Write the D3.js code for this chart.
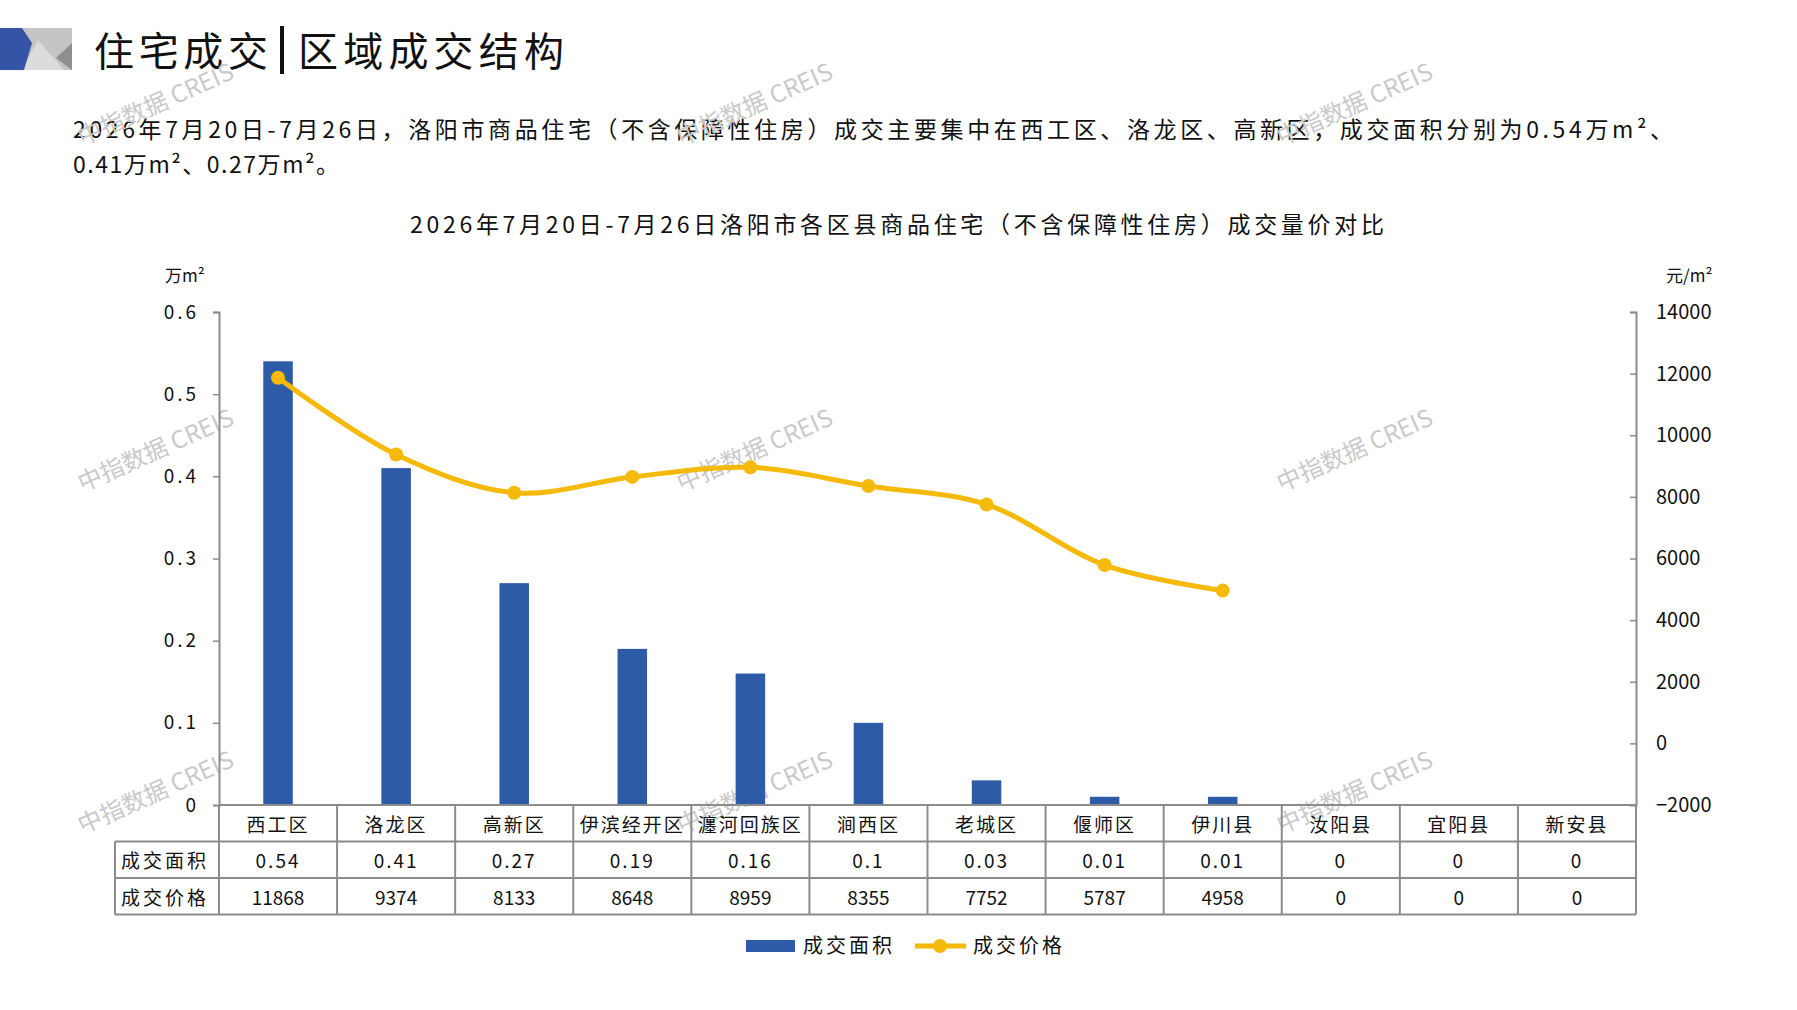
<!DOCTYPE html>
<html>
<head>
<meta charset="utf-8">
<script src="https://cdn.jsdelivr.net/npm/d3@7"></script>
<style>
  body { margin: 0; background: #fff; }
  text { font-family: "Noto Sans CJK SC", "Noto Sans", sans-serif; fill: #111; }
</style>
</head>
<body>
<div class="canvas"></div>
<script>
// chart data
const categories = ['西工区', '洛龙区', '高新区', '伊滨经开区', '瀍河回族区', '涧西区', '老城区', '偃师区', '伊川县', '汝阳县', '宜阳县', '新安县'];
const areaValues = [0.54, 0.41, 0.27, 0.19, 0.16, 0.1, 0.03, 0.01, 0.01, 0, 0, 0];
const priceValues = [11868, 9374, 8133, 8648, 8959, 8355, 7752, 5787, 4958, 0, 0, 0];
const areaTicks = [0, 0.1, 0.2, 0.3, 0.4, 0.5, 0.6];
const priceTicks = [-2000, 0, 2000, 4000, 6000, 8000, 10000, 12000, 14000];
const rowLabels = ['成交面积', '成交价格'];
const seriesNames = ['成交面积', '成交价格'];

const blue = '#2E5BA8';
const gold = '#F5B90A';
const gridGrey = '#8c8c8c';

const plotLeft = 219;
const plotRight = 1636;
const plotTop = 312;
const plotBottom = 805;

const svg = d3.select('.canvas')
    .append('svg')
        .attr('width', 1797)
        .attr('height', 1010);

svg.append('rect').attr('width', 1797).attr('height', 1010).attr('fill', '#fff');

// header logo
const logo = svg.append('g');
logo.append('rect').attr('x', 22).attr('y', 28).attr('width', 50).attr('height', 42).attr('fill', '#c4c4c4');
logo.append('path').attr('d', 'M22,70 L38,40 L64,70 Z').attr('fill', '#dcdcdc');
logo.append('path').attr('d', 'M72,43 L56,58 L72,70 Z').attr('fill', '#8e8e8e');
logo.append('path').attr('d', 'M0,28 L22,28 L32,43 L24,70 L0,70 Z').attr('fill', '#3654a5');

svg.append('text')
    .attr('x', 94).attr('y', 66)
    .attr('font-size', 40)
    .attr('textLength', 174)
    .text('住宅成交');
svg.append('rect').attr('x', 280).attr('y', 26).attr('width', 4).attr('height', 48).attr('fill', '#111');
svg.append('text')
    .attr('x', 298).attr('y', 66)
    .attr('font-size', 40)
    .attr('textLength', 266)
    .text('区域成交结构');

// paragraph
svg.append('text')
    .attr('x', 73).attr('y', 138)
    .attr('font-size', 23)
    .attr('textLength', 1600)
    .attr('lengthAdjust', 'spacing')
    .text('2026年7月20日-7月26日，洛阳市商品住宅（不含保障性住房）成交主要集中在西工区、洛龙区、高新区，成交面积分别为0.54万m²、');
svg.append('text')
    .attr('x', 73).attr('y', 173)
    .attr('font-size', 23)
    .attr('textLength', 266)
    .attr('lengthAdjust', 'spacing')
    .text('0.41万m²、0.27万m²。');

// watermarks
const wmX = [159, 758, 1358];
const wmY = [112, 458, 800];
wmY.forEach(wy => wmX.forEach(wx => {
    svg.append('text')
        .attr('transform', `translate(${wx},${wy}) rotate(-24)`)
        .attr('text-anchor', 'middle')
        .attr('font-size', 24)
        .style('fill', '#c9c9c9')
        .text('中指数据 CREIS');
}));

// chart title
svg.append('text')
    .attr('x', 897).attr('y', 233)
    .attr('text-anchor', 'middle')
    .attr('font-size', 23)
    .attr('textLength', 974)
    .attr('lengthAdjust', 'spacing')
    .text('2026年7月20日-7月26日洛阳市各区县商品住宅（不含保障性住房）成交量价对比');

// scales
const x = d3.scaleBand()
    .domain(categories)
    .range([plotLeft, plotRight]);
const yLeft = d3.scaleLinear()
    .domain([0, 0.6])
    .range([plotBottom, plotTop]);
const yRight = d3.scaleLinear()
    .domain([-2000, 14000])
    .range([plotBottom, plotTop]);

// units
svg.append('text').attr('x', 165).attr('y', 282).attr('font-size', 17).text('万m²');
svg.append('text').attr('x', 1666).attr('y', 282).attr('font-size', 17).text('元/m²');

// axes
const leftAxis = svg.append('g')
    .attr('transform', `translate(${plotLeft},0)`)
    .call(d3.axisLeft(yLeft).tickValues(areaTicks).tickSize(6).tickSizeOuter(6).tickPadding(14)
        .tickFormat(d => d === 0 ? '0' : d3.format('.1f')(d)));
const rightAxis = svg.append('g')
    .attr('transform', `translate(${plotRight},0)`)
    .call(d3.axisRight(yRight).tickValues(priceTicks).tickSize(-6).tickSizeOuter(-6).tickPadding(20)
        .tickFormat(d3.format('d')));
[leftAxis, rightAxis].forEach(g => {
    g.select('.domain').attr('stroke', gridGrey).attr('stroke-width', 2);
    g.selectAll('.tick line').attr('stroke', gridGrey).attr('stroke-width', 1.5);
    g.selectAll('.tick text').attr('font-size', 19).style('fill', '#111')
        .attr('font-family', '"Noto Sans", sans-serif');
});
leftAxis.selectAll('.tick text').attr('letter-spacing', 3);
rightAxis.selectAll('.tick text').attr('font-size', 20);
rightAxis.selectAll('.tick').filter(d => d === -2000).select('line').remove();
leftAxis.selectAll('.tick').filter(d => d === 0).select('line').remove();

// bars
const barW = x.bandwidth() * 0.25;
svg.append('g').selectAll('rect')
    .data(categories.map((c, i) => ({ c, v: areaValues[i] })))
    .enter()
    .append('rect')
    .attr('x', d => x(d.c) + (x.bandwidth() - barW) / 2)
    .attr('y', d => yLeft(d.v))
    .attr('width', barW)
    .attr('height', d => yLeft(0) - yLeft(d.v))
    .attr('fill', blue);

// price line
const pts = categories.map((c, i) => ({ c, v: priceValues[i] })).filter(d => d.v > 0);
const line = d3.line()
    .x(d => x(d.c) + x.bandwidth() / 2)
    .y(d => yRight(d.v))
    .curve(d3.curveCatmullRom.alpha(0.5));
svg.append('path')
    .datum(pts)
    .attr('d', line)
    .attr('fill', 'none')
    .attr('stroke', gold)
    .attr('stroke-width', 5);
svg.append('g').selectAll('circle')
    .data(pts)
    .enter()
    .append('circle')
    .attr('cx', d => x(d.c) + x.bandwidth() / 2)
    .attr('cy', d => yRight(d.v))
    .attr('r', 7)
    .attr('fill', gold);

// data table
const rowH = 36.5;
const tableTop = plotBottom;
const tableLeft = 115;
const table = svg.append('g').attr('stroke', gridGrey).attr('stroke-width', 2);
table.append('line').attr('x1', plotLeft).attr('x2', plotRight).attr('y1', tableTop).attr('y2', tableTop);
[1, 2, 3].forEach(r => {
    table.append('line').attr('x1', tableLeft).attr('x2', plotRight)
        .attr('y1', tableTop + r * rowH).attr('y2', tableTop + r * rowH);
});
table.append('line').attr('x1', tableLeft).attr('x2', tableLeft)
    .attr('y1', tableTop + rowH).attr('y2', tableTop + 3 * rowH);
categories.forEach(c => {
    table.append('line').attr('x1', x(c)).attr('x2', x(c))
        .attr('y1', tableTop).attr('y2', tableTop + 3 * rowH);
});
table.append('line').attr('x1', plotRight).attr('x2', plotRight)
    .attr('y1', tableTop).attr('y2', tableTop + 3 * rowH);

const cellText = (tx, ty, s, anchor) => svg.append('text')
    .attr('x', tx).attr('y', ty)
    .attr('text-anchor', anchor || 'middle')
    .attr('dominant-baseline', 'central')
    .attr('font-size', 19)
    .text(s);

categories.forEach((c, i) => {
    const cx = x(c) + x.bandwidth() / 2;
    cellText(cx, tableTop + rowH * 0.5, c).attr('letter-spacing', 2);
    cellText(cx, tableTop + rowH * 1.5, String(areaValues[i])).attr('letter-spacing', 2);
    cellText(cx, tableTop + rowH * 2.5, String(priceValues[i]));
});
rowLabels.forEach((lab, r) => {
    cellText(tableLeft + 6, tableTop + rowH * (r + 1.5), lab, 'start').attr('letter-spacing', 3);
});

// legend
const legend = svg.append('g');
legend.append('rect').attr('x', 746).attr('y', 940).attr('width', 49).attr('height', 12).attr('fill', blue);
legend.append('text').attr('x', 803).attr('y', 953).attr('font-size', 20).attr('letter-spacing', 3).text(seriesNames[0]);
legend.append('line').attr('x1', 915).attr('x2', 966).attr('y1', 946).attr('y2', 946)
    .attr('stroke', gold).attr('stroke-width', 5);
legend.append('circle').attr('cx', 940).attr('cy', 946).attr('r', 7).attr('fill', gold);
legend.append('text').attr('x', 973).attr('y', 953).attr('font-size', 20).attr('letter-spacing', 3).text(seriesNames[1]);
</script>
</body>
</html>
